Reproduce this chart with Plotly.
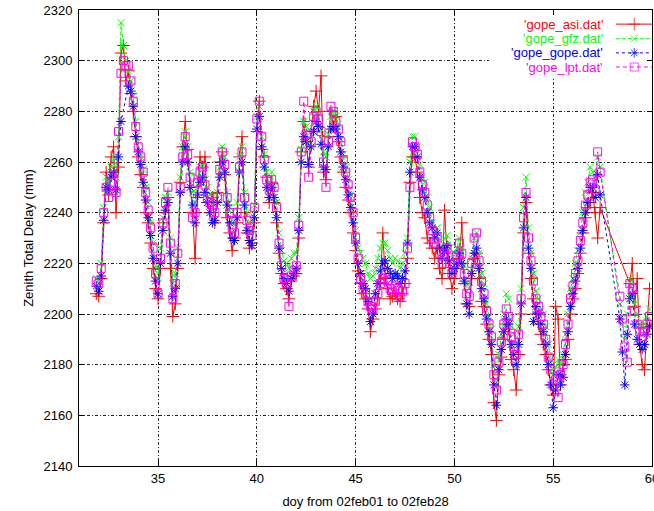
import plotly.graph_objects as go

# sample times (day of year), 3-hourly grid from 31.875 to 59.875
doy = [31.875 + 0.125 * i for i in range(225)]

N = None
asi = [
    2208,
    2207, 2214, 2236, 2256, 2247, 2262, 2266, 2240,
    2258, 2303, 2306, 2292, 2296, 2287, 2280, 2270,
    2262, 2255, 2250, 2240, 2236, 2228, 2218, 2210,
    2206, 2218, 2236, 2240, 2246, 2218, 2199, 2204,
    2218, 2252, 2266, 2276, 2265, 2250, 2240, 2222,
    2246, 2262, 2258, 2262, 2244, 2240, 2246, 2236,
    2248, 2260, 2264, 2255, 2238, 2232, 2225, 2230,
    2236, 2262, 2270, 2240, 2232, 2226, 2228, 2236,
    2272, 2284, 2265, 2262, 2254, 2244, 2252, 2244,
    2236, 2224, 2216, 2212, 2210, 2206, 2213, 2215,
    2216, 2230, 2264, 2276, 2268, 2258, 2272, 2282,
    2288, 2280, 2294, 2256, 2253, 2270, 2280, 2274,
    2278, 2268, 2262, 2256, 2250, 2245, 2240, 2232,
    2225, 2217, 2212, 2208, 2206, 2202, 2193, 2198,
    2202, 2206, 2212, 2232, 2214, 2210, 2206, 2207,
    2208, 2206, 2205, 2208, 2212, 2222, 2252, 2262,
    2262, 2256, 2246, 2240, 2238, 2230, 2228, 2226,
    2222, 2226, 2218, 2214, 2241, 2224, 2216, 2210,
    2214, 2218, 2222, 2236, 2212, 2204, 2203, 2214,
    2222, 2224, 2214, 2205, 2203, 2196, 2190, 2184,
    2165, 2158, 2176, 2183, 2190, 2196, 2194, 2182,
    2178, 2170, 2184, 2200, 2232, 2244, 2224, 2214,
    2206, 2200, 2196, 2192, 2188, 2184, 2178, 2172,
    2168, 2203, 2198, 2172, 2180, 2182, 2190, 2200,
    2206, 2210, 2216, 2224, 2232, 2238, 2242, 2244,
    2248, 2240, 2230, 2242, N, N, N, N,
    N, N, N, N, N, N, N, 2212,
    2220, 2203, 2214, 2188, 2180, 2178, 2196, 2210,
]

gfz = [
    2214,
    2212, 2220, 2242, 2254, 2252, 2258, 2262, 2254,
    2270, 2315, 2306, 2300, 2296, 2292, 2286, 2276,
    2268, 2262, 2257, 2250, 2244, 2236, 2228, 2219,
    2214, 2226, 2238, 2246, 2248, 2230, 2212, 2216,
    2226, 2254, 2266, 2272, 2266, 2256, 2248, 2244,
    2254, 2258, 2258, 2253, 2250, 2247, 2245, 2243,
    2248, 2258, 2266, 2262, 2248, 2242, 2236, 2235,
    2244, 2262, 2266, 2248, 2240, 2236, 2233, 2243,
    2278, 2282, 2270, 2263, 2256, 2252, 2256, 2250,
    2244, 2232, 2225, 2221, 2220, 2218, 2222, 2224,
    2224, 2238, 2265, 2276, 2274, 2266, 2272, 2280,
    2282, 2279, 2273, 2264, 2262, 2271, 2278, 2280,
    2278, 2275, 2269, 2263, 2258, 2253, 2247, 2241,
    2233, 2226, 2224, 2222, 2220, 2216, 2214, 2215,
    2218, 2222, 2226, 2228, 2228, 2225, 2222, 2220,
    2222, 2221, 2218, 2220, 2224, 2230, 2260, 2270,
    2270, 2266, 2259, 2254, 2252, 2246, 2242, 2236,
    2232, 2234, 2229, 2226, 2230, 2231, 2226, 2222,
    2224, 2226, 2230, 2226, 2219, 2212, 2210, 2222,
    2230, 2232, 2224, 2216, 2212, 2204, 2199, 2194,
    2180, 2172, 2184, 2192, 2200, 2208, 2206, 2198,
    2192, 2188, 2195, 2210, 2242, 2254, 2234, 2224,
    2216, 2209, 2206, 2202, 2200, 2195, 2188, 2182,
    2176, 2179, 2182, 2180, 2184, 2192, 2200, 2210,
    2214, 2220, 2225, 2232, 2240, 2248, 2252, 2258,
    2256, 2252, 2262, 2258, N, N, N, N,
    N, N, N, 2204, 2196, 2190, 2200, 2214,
    2213, 2204, 2200, 2196, 2194, 2196, 2199, 2202,
]

gope = [
    2211,
    2209, 2215, 2237, 2250, 2249, 2254, 2256, 2249,
    2262, 2276, N, N, 2290, 2288, 2282, 2270,
    2264, 2259, 2252, 2245, 2238, 2231, 2222, 2213,
    2208, 2220, 2233, 2241, 2244, 2224, 2207, 2210,
    2220, 2248, 2260, 2266, 2260, 2250, 2243, 2236,
    2247, 2252, 2254, 2248, 2244, 2240, 2236, 2237,
    2244, 2254, 2260, 2256, 2243, 2236, 2230, 2229,
    2238, 2256, 2260, 2243, 2233, 2229, 2227, 2238,
    2273, 2278, 2266, 2258, 2250, 2246, 2250, 2246,
    2238, 2226, 2218, 2214, 2212, 2209, 2214, 2216,
    2218, 2233, 2260, 2270, 2268, 2259, 2266, 2272,
    2276, 2274, 2267, 2258, 2257, 2266, 2273, 2274,
    2273, 2270, 2264, 2258, 2253, 2247, 2242, 2236,
    2228, 2220, 2216, 2212, 2210, 2205, 2197, 2200,
    2208, 2212, 2217, 2220, 2221, 2218, 2216, 2214,
    2216, 2215, 2212, 2214, 2217, 2228, 2256, 2266,
    2266, 2262, 2254, 2249, 2246, 2240, 2236, 2234,
    2230, 2232, 2226, 2222, 2225, 2227, 2221, 2216,
    2218, 2220, 2224, 2220, 2213, 2204, 2200, 2216,
    2224, 2226, 2218, 2210, 2206, 2198, 2193, 2188,
    2172, 2164, 2178, 2186, 2193, 2198, 2196, 2188,
    2184, 2180, 2188, 2204, 2234, 2246, 2226, 2218,
    2197, 2203, 2200, 2196, 2193, 2188, 2180, 2172,
    2163, 2170, 2176, 2172, 2175, 2184, 2193, 2203,
    2208, 2213, 2218, 2226, 2233, 2240, 2244, 2250,
    2250, 2246, 2255, 2247, N, N, N, N,
    N, N, N, 2198, 2185, 2172, 2192, 2206,
    2208, 2196, 2190, 2188, 2186, 2188, 2192, 2195,
]

lpt = [
    2213,
    2212, 2218, 2240, 2250, 2246, 2252, 2258, 2248,
    2272, 2295, 2300, 2298, 2298, 2292, 2284, 2274,
    2266, 2262, 2256, 2248, 2241, 2234, 2226, 2216,
    2208, 2222, 2236, 2244, 2250, 2228, 2206, 2212,
    2224, 2250, 2262, 2270, 2263, 2254, 2238, 2240,
    2252, 2256, 2258, 2251, 2246, 2244, 2243, 2240,
    2246, 2257, 2264, 2259, 2246, 2240, 2234, 2232,
    2240, 2258, 2264, 2246, 2237, 2233, 2231, 2242,
    2277, 2284, 2270, 2261, 2253, 2249, 2253, 2250,
    2242, 2228, 2219, 2214, 2212, 2203, 2215, 2217,
    2219, 2235, 2264, 2284, 2271, 2254, 2268, 2278,
    2280, 2277, 2272, 2260, 2250, 2268, 2282, 2280,
    2276, 2273, 2268, 2261, 2256, 2251, 2246, 2240,
    2230, 2222, 2214, 2210, 2208, 2205, 2203, 2202,
    2205, 2208, 2212, 2214, 2216, 2213, 2210, 2209,
    2211, 2210, 2207, 2209, 2212, 2226, 2250, 2268,
    2266, 2263, 2256, 2251, 2248, 2243, 2238, 2233,
    2228, 2230, 2224, 2220, 2224, 2226, 2220, 2216,
    2220, 2223, 2228, 2224, 2216, 2208, 2207, 2220,
    2230, 2232, 2221, 2213, 2208, 2201, 2196, 2191,
    2176, 2170, 2181, 2189, 2196, 2202, 2199, 2191,
    2187, 2184, 2192, 2206, 2238, 2248, 2230, 2221,
    2213, 2206, 2203, 2199, 2196, 2190, 2183, 2178,
    2172, 2174, 2167, 2176, 2180, 2188, 2196, 2206,
    2211, 2216, 2221, 2229, 2236, 2243, 2247, 2252,
    2253, 2249, 2264, 2256, N, N, N, N,
    N, N, N, 2207, 2198, 2187, 2181, 2212,
    2210, 2201, 2196, 2193, 2191, 2193, 2196, 2199,
]

names = ["'gope_asi.dat'", "'gope_gfz.dat'", "'gope_gope.dat'", "'gope_lpt.dat'"]
values = [asi, gfz, gope, lpt]
colors = ["#ff0000", "#00ff00", "#0000ff", "#ff00ff"]
dashes = ["solid", "4px,2px", "3px,3px", "4px,3px"]
symbols = ["cross-thin-open", "x-thin-open", "asterisk-open", "square-open"]
sizes = [9, 7, 8, 8]

y_ticks = list(range(2140, 2321, 20))
x_ticks = [35, 40, 45, 50, 55, 60]

FONT = "Liberation Sans, Arial, Helvetica, sans-serif"

fig = go.Figure()
for nm, v, c, d, s, sz in zip(names, values, colors, dashes, symbols, sizes):
    fig.add_trace(go.Scatter(
        x=doy, y=v, name=nm, mode="lines+markers", connectgaps=True,
        line=dict(color=c, width=1, dash=d),
        marker=dict(symbol=s, size=sz, color=c, line=dict(color=c, width=1)),
        showlegend=False,
    ))

# gnuplot-style key: text right-aligned, sample line with marker at right
key_rows = [0.969, 0.937, 0.906, 0.875]
for nm, c, d, s, sz, ry in zip(names, colors, dashes, symbols, sizes, key_rows):
    fig.add_trace(go.Scatter(
        x=[0.937, 0.969, 1.0], y=[ry, ry, ry], xaxis="x2", yaxis="y2",
        mode="lines+markers", line=dict(color=c, width=1, dash=d),
        marker=dict(symbol=s, size=[0, sz, 0], color=c, line=dict(color=c, width=1)),
        showlegend=False, hoverinfo="skip", cliponaxis=False,
    ))
    fig.add_annotation(
        text=nm, xref="paper", yref="paper", x=0.918, y=ry,
        xanchor="right", yanchor="middle", showarrow=False,
        font=dict(family=FONT, size=13, color=c),
    )

fig.add_shape(type="rect", xref="x", yref="y", x0=51.75, x1=60, y0=2293.5, y1=2320,
              fillcolor="white", line=dict(width=0), layer="between")

grid = dict(showgrid=True, gridcolor="#222", gridwidth=1, griddash="3px,2px,1px,2px",
            zeroline=False, showline=True, linecolor="black", linewidth=1,
            mirror="ticks", ticks="inside", ticklen=5, tickcolor="black",
            automargin=False, ticklabeloverflow="allow",
            tickfont=dict(family=FONT, size=13, color="black"))

fig.update_layout(
    width=654, height=511,
    margin=dict(l=79, r=2, t=10, b=45, autoexpand=False),
    paper_bgcolor="white", plot_bgcolor="white",
    font=dict(family=FONT, size=13, color="black"),
    xaxis=dict(range=[31, 60], tickvals=x_ticks,
               title=dict(text="doy from 02feb01 to 02feb28", standoff=12,
                          font=dict(family=FONT, size=13)), **grid),
    yaxis=dict(range=[2140, 2320], tickvals=y_ticks, ticklabelstandoff=3,
               title=dict(text="Zenith Total Delay (mm)", standoff=6,
                          font=dict(family=FONT, size=13)), **grid),
    xaxis2=dict(overlaying="x", range=[0, 1], visible=False, fixedrange=True, automargin=False),
    yaxis2=dict(overlaying="y", range=[0, 1], visible=False, fixedrange=True, automargin=False),
)

fig.write_html("out.html", config={"displayModeBar": False},
               post_script="document.body.style.margin='0';document.body.style.overflow='hidden';")
